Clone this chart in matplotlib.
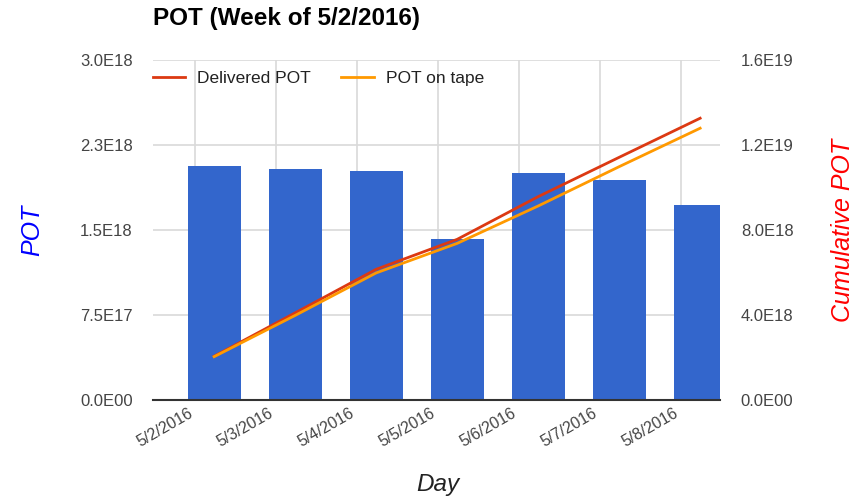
#!/usr/bin/env python3
"""POT per day (bars) with cumulative delivered / on-tape POT (lines)."""

import matplotlib
matplotlib.use("Agg")
import matplotlib.pyplot as plt

plt.rcParams['font.family'] = ['Liberation Sans', 'DejaVu Sans']

# Data
days = ['5/2/2016', '5/3/2016', '5/4/2016', '5/5/2016', '5/6/2016', '5/7/2016', '5/8/2016']
daily_pot = [2.065e18, 2.036e18, 2.023e18, 1.418e18, 2.00e18, 1.941e18, 1.72e18]
cum_delivered = [2.06e18, 4.10e18, 6.15e18, 7.56e18, 9.57e18, 11.42e18, 13.26e18]
cum_on_tape = [2.04e18, 3.98e18, 5.98e18, 7.37e18, 9.13e18, 10.98e18, 12.79e18]

left_ticks = [0, 7.5e17, 1.5e18, 2.25e18, 3.0e18]
left_labels = ['0.0E00', '7.5E17', '1.5E18', '2.3E18', '3.0E18']
right_ticks = [0, 4e18, 8e18, 1.2e19, 1.6e19]
right_labels = ['0.0E00', '4.0E18', '8.0E18', '1.2E19', '1.6E19']

BLUE = '#3366cc'
RED = '#dc3912'
ORANGE = '#ff9900'
GRID = '#d9d9d9'
TICK = '#444444'

# bars sit a bit right of the date gridlines (date axis offset)
offset = 0.235
xs = [i for i in range(len(days))]
xb = [x + offset for x in xs]

fig = plt.figure(figsize=(8.67, 5.0), dpi=100)
ax = fig.add_axes([153 / 867, 100 / 500, (720 - 153) / 867, 340 / 500])
ax2 = ax.twinx()

ax.bar(xb, daily_pot, width=0.655, color=BLUE, zorder=2)
ax.set_xlim(-0.52, 6.48)
ax.set_ylim(0, 3.0e18)
ax.set_yticks(left_ticks)
ax.set_yticklabels(left_labels)
ax.set_xticks(xs)
ax.set_xticklabels(days, rotation=30, ha='right', va='top', fontsize=11.5)
ax.grid(True, color=GRID, linewidth=1.2, zorder=0)
ax.set_axisbelow(True)
ax.tick_params(length=0, labelsize=12, colors=TICK)
ax.tick_params(axis='y', pad=14.5)
ax.tick_params(axis='x', labelsize=11.5, pad=4)
for s in ['top', 'left', 'right']:
    ax.spines[s].set_visible(False)
ax.spines['bottom'].set_color('#333333')
ax.spines['bottom'].set_linewidth(1.5)
ax.spines['bottom'].set_zorder(3)

l1, = ax2.plot(xb, cum_delivered, color=RED, linewidth=2, label='Delivered POT')
l2, = ax2.plot(xb, cum_on_tape, color=ORANGE, linewidth=2, label='POT on tape')
ax2.set_ylim(0, 1.6e19)
ax2.set_yticks(right_ticks)
ax2.set_yticklabels(right_labels)
ax2.tick_params(length=0, labelsize=12, colors=TICK, pad=15)
for s in ax2.spines.values():
    s.set_visible(False)

ax2.legend(handles=[l1, l2], loc='upper left', bbox_to_anchor=(0.0, 0.967),
           ncol=2, frameon=False, fontsize=12.5, handlelength=1.85,
           handletextpad=0.7, columnspacing=1.75, borderaxespad=0,
           borderpad=0, labelcolor='#222222')

fig.text(153 / 867, 1 - 18 / 500, 'POT (Week of 5/2/2016)', fontsize=17.5,
         fontweight='bold', color='#000000', ha='left', va='center')
fig.text(32 / 867, 1 - 230 / 500, 'POT', fontsize=18, style='italic',
         color='#0000ff', rotation=90, ha='center', va='center')
fig.text(843 / 867, 1 - 230 / 500, 'Cumulative POT', fontsize=18, style='italic',
         color='#ff0000', rotation=90, ha='center', va='center')
fig.text(438 / 867, 1 - 485 / 500, 'Day', fontsize=17.5, style='italic',
         color='#222222', ha='center', va='center')

fig.savefig('out.png', dpi=100)
